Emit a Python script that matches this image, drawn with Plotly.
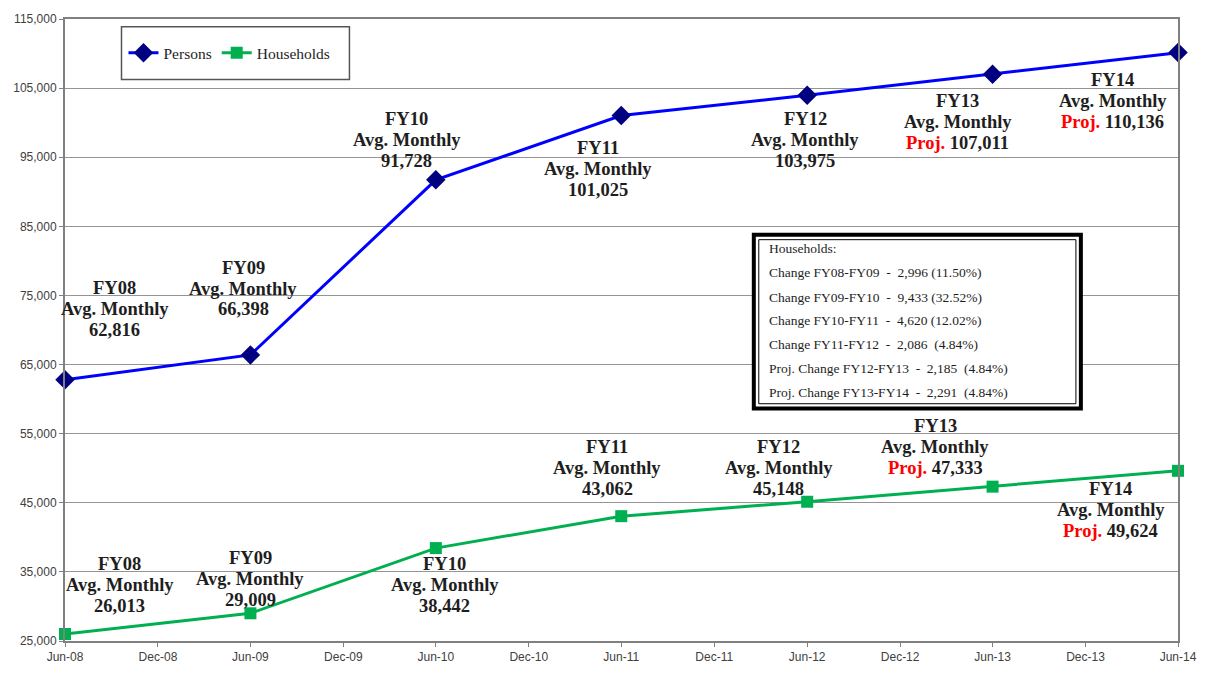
import plotly.graph_objects as go

# ---- data ----
dates = ["2008-06-01", "2009-06-01", "2010-06-01", "2011-06-01",
         "2012-06-01", "2013-06-01", "2014-06-01"]
fiscal_years = ["FY08", "FY09", "FY10", "FY11", "FY12", "FY13", "FY14"]
persons = [62816, 66398, 91728, 101025, 103975, 107011, 110136]
households = [26013, 29009, 38442, 43062, 45148, 47333, 49624]
projected = [False, False, False, False, False, True, True]
y_ticks = [25000, 35000, 45000, 55000, 65000, 75000, 85000, 95000, 105000, 115000]
info_lines = [
    "Households:",
    "Change FY08-FY09  -  2,996 (11.50%)",
    "Change FY09-FY10  -  9,433 (32.52%)",
    "Change FY10-FY11  -  4,620 (12.02%)",
    "Change FY11-FY12  -  2,086  (4.84%)",
    "Proj. Change FY12-FY13  -  2,185  (4.84%)",
    "Proj. Change FY13-FY14  -  2,291  (4.84%)",
]

# ---- layout geometry (pixels) ----
W, H = 1209, 676
L, R, T, B = 65, 1188, 14, 651


def px(x):
    return (x - L) / (R - L)


def py(y):
    return (B - y) / (B - T)


SERIF = "Liberation Serif, Times New Roman, serif"
SANS = "Liberation Sans, Arial, sans-serif"
TXT = "#1e1e1e"

fig = go.Figure()
fig.add_trace(go.Scatter(
    x=dates, y=persons, name="Persons", mode="lines+markers",
    line=dict(color="#0000FF", width=3),
    marker=dict(symbol="diamond", size=15, color="#000080"),
    cliponaxis=False,
))
fig.add_trace(go.Scatter(
    x=dates, y=households, name="Households", mode="lines+markers",
    line=dict(color="#00B050", width=3),
    marker=dict(symbol="square", size=12, color="#00B050"),
    cliponaxis=False,
))

# label positions (pixel centres of the 3-line blocks)
p_pos = [(115, 311), (245, 290), (410, 138), (603, 168), (812, 138), (966, 119), (1122, 98)]
h_pos = [(120, 594), (252, 587), (448, 594), (612, 474), (785, 474), (943, 452), (1120, 517)]
LINE_GAP = 21.5

annotations = []


def add_label(fy, val, proj, x, y):
    num = f"<b>{val:,}</b>"
    if proj:
        num = f"<b><span style='color:#FF0000'>Proj.</span></b> {num}"
    lines = [f"<b>{fy}</b>", "<b>Avg. Monthly</b>", num]
    for i, t in enumerate(lines):
        annotations.append(dict(xref="paper", yref="paper", x=px(x),
                                y=py(y + (i - 1) * LINE_GAP),
                                text=t, showarrow=False,
                                xanchor="center", yanchor="middle", align="center",
                                font=dict(family=SERIF, size=18.5, color=TXT)))


for fy, v, pr, (x, y) in zip(fiscal_years, persons, projected, p_pos):
    add_label(fy, v, pr, x, y)
for fy, v, pr, (x, y) in zip(fiscal_years, households, projected, h_pos):
    add_label(fy, v, pr, x, y)

# info box text
info_y = [249, 274, 299, 323, 347, 372, 396]
for t, y in zip(info_lines, info_y):
    annotations.append(dict(xref="paper", yref="paper", x=px(773), y=py(y),
                            text=t, showarrow=False, xanchor="left", yanchor="middle",
                            font=dict(family=SERIF, size=13.5, color=TXT)))

shapes = [
    # info box double border
    dict(type="rect", xref="paper", yref="paper", x0=px(760), x1=px(1090),
         y0=py(413), y1=py(235), line=dict(color="#000000", width=4),
         fillcolor="white", layer="above"),
    dict(type="rect", xref="paper", yref="paper", x0=px(765), x1=px(1085),
         y0=py(408), y1=py(240), line=dict(color="#000000", width=1), layer="above"),
    # legend frame
    dict(type="rect", xref="paper", yref="paper", x0=px(122), x1=px(352),
         y0=py(76), y1=py(22), line=dict(color="#555555", width=1.5),
         fillcolor="white", layer="above"),
]

fig.update_layout(
    width=W, height=H,
    margin=dict(l=L, r=W - R, t=T, b=H - B),
    paper_bgcolor="white", plot_bgcolor="white",
    showlegend=True,
    legend=dict(orientation="h", x=px(124), y=py(49), xanchor="left", yanchor="middle",
                bgcolor="rgba(0,0,0,0)", borderwidth=0,
                font=dict(family=SERIF, size=15.5, color=TXT),
                itemwidth=30, tracegroupgap=0),
    annotations=annotations,
    shapes=shapes,
    xaxis=dict(
        type="date", range=["2008-06-01", "2014-06-01"],
        tick0="2008-06-01", dtick="M6", tickformat="%b-%y",
        showgrid=False, zeroline=False,
        showline=True, linecolor="#808080", linewidth=2, mirror=True,
        ticks="outside", ticklen=4, tickcolor="#808080",
        tickfont=dict(family=SANS, size=12, color="#404040"),
    ),
    yaxis=dict(
        range=[25000, 115000], tickvals=y_ticks, tickformat=",",
        showgrid=True, gridcolor="#949494", gridwidth=1, zeroline=False,
        showline=True, linecolor="#808080", linewidth=2, mirror=True,
        ticks="outside", ticklen=4, tickcolor="#808080",
        tickfont=dict(family=SANS, size=12, color="#404040"),
    ),
)

fig.write_html("out.html")
